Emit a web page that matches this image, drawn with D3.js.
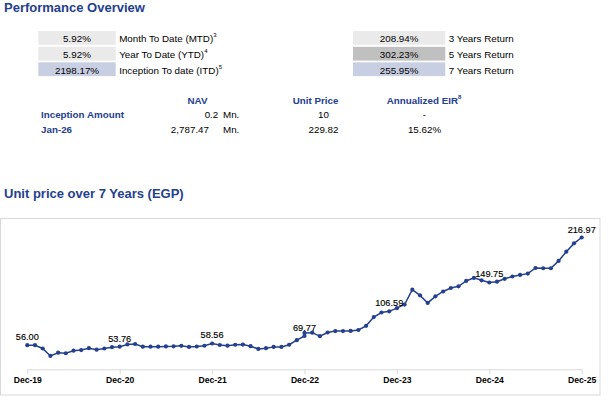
<!DOCTYPE html>
<html>
<head>
<meta charset="utf-8">
<script src="https://cdn.jsdelivr.net/npm/d3@7"></script>
<style>
  body { margin: 0; background: #fff; }
  svg { display: block; font-family: "Liberation Sans", Arial, sans-serif; }
  .navy { fill: #24408e; }
</style>
</head>
<body>
<svg id="chart" width="612" height="402"></svg>
<script>
// returns boxes
var leftValues = ["5.92%", "5.92%", "2198.17%"];
var leftLabels = ["Month To Date (MTD)", "Year To Date (YTD)", "Inception To date (ITD)"];
var leftNotes = ["3", "4", "5"];
var rightValues = ["208.94%", "302.23%", "255.95%"];
var rightLabels = ["3 Years Return", "5 Years Return", "7 Years Return"];

// NAV table
var tableHeaders = ["NAV", "Unit Price", "Annualized EIR"];
var rowLabels = ["Inception Amount", "Jan-26"];
var navValues = ["0.2", "2,787.47"];
var unitPrices = ["10", "229.82"];
var eirValues = ["-", "15.62%"];

// unit price series (Dec-22 has two readings)
var months = [
  "2019-12",
  "2020-01", "2020-02", "2020-03", "2020-04", "2020-05", "2020-06",
  "2020-07", "2020-08", "2020-09", "2020-10", "2020-11", "2020-12",
  "2021-01", "2021-02", "2021-03", "2021-04", "2021-05", "2021-06",
  "2021-07", "2021-08", "2021-09", "2021-10", "2021-11", "2021-12",
  "2022-01", "2022-02", "2022-03", "2022-04", "2022-05", "2022-06",
  "2022-07", "2022-08", "2022-09", "2022-10", "2022-11", "2022-12", "2022-12",
  "2023-01", "2023-02", "2023-03", "2023-04", "2023-05", "2023-06",
  "2023-07", "2023-08", "2023-09", "2023-10", "2023-11", "2023-12",
  "2024-01", "2024-02", "2024-03", "2024-04", "2024-05", "2024-06",
  "2024-07", "2024-08", "2024-09", "2024-10", "2024-11", "2024-12",
  "2025-01", "2025-02", "2025-03", "2025-04", "2025-05", "2025-06",
  "2025-07", "2025-08", "2025-09", "2025-10", "2025-11", "2025-12"
];
var prices = [
  56.00,
  56.0, 51.1, 40.0, 44.8, 44.0, 47.8,
  48.8, 51.5, 49.3, 51.1, 53.0, 53.76,
  57.2, 57.8, 53.8, 53.8, 53.8, 54.2,
  54.3, 55.1, 53.5, 54.1, 55.2, 58.56,
  56.3, 55.3, 56.7, 57.0, 54.5, 50.5,
  51.5, 53.5, 53.5, 56.7, 63.5, 69.77, 74.4,
  74.8, 69.5, 75.0, 77.2, 77.2, 77.3,
  78.7, 85.0, 98.0, 104.9, 106.59, 111.4,
  116.8, 139.0, 130.5, 119.2, 129.0, 136.3,
  141.5, 144.0, 152.0, 156.6, 153.0, 149.75,
  151.0, 155.2, 158.7, 161.0, 163.0, 171.4,
  171.0, 171.0, 182.0, 195.8, 208.2, 216.97
];
var labelled = [0, 12, 24, 36, 48, 61, 73];
var tickMonths = ["2019-12", "2020-12", "2021-12", "2022-12", "2023-12", "2024-12", "2025-12"];
var tickLabels = ["Dec-19", "Dec-20", "Dec-21", "Dec-22", "Dec-23", "Dec-24", "Dec-25"];

var svg = d3.select("#chart");

function monthIndex(m) {
    var p = m.split("-");
    return (+p[0] - 2019) * 12 + (+p[1] - 12);
}

// ---- Performance overview ----
svg.append("text").attr("class", "navy")
    .attr("x", 4).attr("y", 11.7)
    .style("font-size", "13px").style("font-weight", "bold")
    .text("Performance Overview");

var rowTop = [31, 46.8, 62.3];
var leftFill = ["#eaeaea", "#eaeaea", "#c8cfe2"];
var rightFill = ["#eaeaea", "#c0c0c0", "#c8cfe2"];

function drawBoxes(values, labels, notes, fills, x0, x1) {
    values.forEach(function (v, i) {
        svg.append("rect")
            .attr("x", x0).attr("y", rowTop[i])
            .attr("width", x1 - x0).attr("height", 13.8)
            .attr("fill", fills[i]);
        svg.append("text")
            .attr("x", (x0 + x1) / 2).attr("y", rowTop[i] + 11.4)
            .attr("text-anchor", "middle")
            .style("font-size", "9.8px").attr("fill", "#000")
            .text(v);
        var t = svg.append("text")
            .attr("x", x1 + 3.5).attr("y", rowTop[i] + 11.4)
            .style("font-size", "9.8px").attr("fill", "#000")
            .text(labels[i]);
        if (notes) {
            t.append("tspan").attr("dy", -5).style("font-size", "6px").text(notes[i]);
        }
    });
}
drawBoxes(leftValues, leftLabels, leftNotes, leftFill, 38.3, 115.7);
drawBoxes(rightValues, rightLabels, null, rightFill, 353, 445.3);

// NAV table
var colCenters = [197.5, 315.5, 424];
tableHeaders.forEach(function (h, i) {
    var t = svg.append("text").attr("class", "navy")
        .attr("x", colCenters[i]).attr("y", 104)
        .attr("text-anchor", "middle")
        .style("font-size", "9.8px").style("font-weight", "bold")
        .text(h);
    if (i === 2) t.append("tspan").attr("dy", -5).style("font-size", "6px").text("8");
});
var rowY = [118, 132.5];
var navRight = [218.3, 209];
rowLabels.forEach(function (r, i) {
    svg.append("text").attr("class", "navy")
        .attr("x", 41).attr("y", rowY[i])
        .style("font-size", "9.8px").style("font-weight", "bold")
        .text(r);
    svg.append("text")
        .attr("x", navRight[i]).attr("y", rowY[i]).attr("text-anchor", "end")
        .style("font-size", "9.8px").text(navValues[i]);
    svg.append("text")
        .attr("x", 223).attr("y", rowY[i])
        .style("font-size", "9.8px").text("Mn.");
    svg.append("text")
        .attr("x", 323.5).attr("y", rowY[i]).attr("text-anchor", "middle")
        .style("font-size", "9.8px").text(unitPrices[i]);
    svg.append("text")
        .attr("x", 424.5).attr("y", rowY[i]).attr("text-anchor", "middle")
        .style("font-size", "9.8px").text(eirValues[i]);
});

// ---- Unit price chart ----
svg.append("text").attr("class", "navy")
    .attr("x", 4).attr("y", 198.3)
    .style("font-size", "13px").style("font-weight", "bold")
    .text("Unit price over 7 Years (EGP)");

svg.append("rect")
    .attr("x", 0.5).attr("y", 218.5)
    .attr("width", 599.5).attr("height", 176.5)
    .attr("fill", "none").attr("stroke", "#d9d9d9");

var x = d3.scaleLinear().domain([0, 72]).range([27.3, 581.7]);
var y = d3.scaleLinear().domain([20, 250]).range([369.3, 215.4]);

var data = months.map(function (m, i) {
    return { i: i, m: monthIndex(m), v: prices[i] };
});

var xAxis = d3.axisBottom(x)
    .tickValues(tickMonths.map(monthIndex))
    .tickFormat(function (d, i) { return tickLabels[i]; })
    .tickSize(5).tickPadding(3).tickSizeOuter(0);

var gx = svg.append("g").attr("transform", "translate(0," + y(20) + ")").call(xAxis);
gx.select(".domain").attr("stroke", "#d9d9d9");
gx.selectAll(".tick line").attr("stroke", "#d9d9d9");
gx.selectAll(".tick text")
    .attr("fill", "#000")
    .style("font-size", "8.6px").style("font-weight", "bold")
    .style("font-family", "'Liberation Sans', Arial, sans-serif");

var line = d3.line()
    .x(function (d) { return x(d.m); })
    .y(function (d) { return y(d.v); });

svg.append("path").datum(data)
    .attr("d", line)
    .attr("fill", "none")
    .attr("stroke", "#24408e")
    .attr("stroke-width", 1.5);

svg.selectAll(".pt").data(data).enter()
    .append("circle").attr("class", "pt")
    .attr("cx", function (d) { return x(d.m); })
    .attr("cy", function (d) { return y(d.v); })
    .attr("r", 2.1)
    .attr("fill", "#24408e");

svg.selectAll(".lbl").data(labelled.map(function (k) { return data[k]; })).enter()
    .append("text").attr("class", "lbl")
    .attr("x", function (d) { return x(d.m); })
    .attr("y", function (d) { return y(d.v) - 5; })
    .attr("text-anchor", "middle")
    .style("font-size", "9.2px").attr("fill", "#000")
    .attr("stroke", "#000").attr("stroke-width", 0.15)
    .text(function (d) { return d.v.toFixed(2); });
</script>
</body>
</html>
